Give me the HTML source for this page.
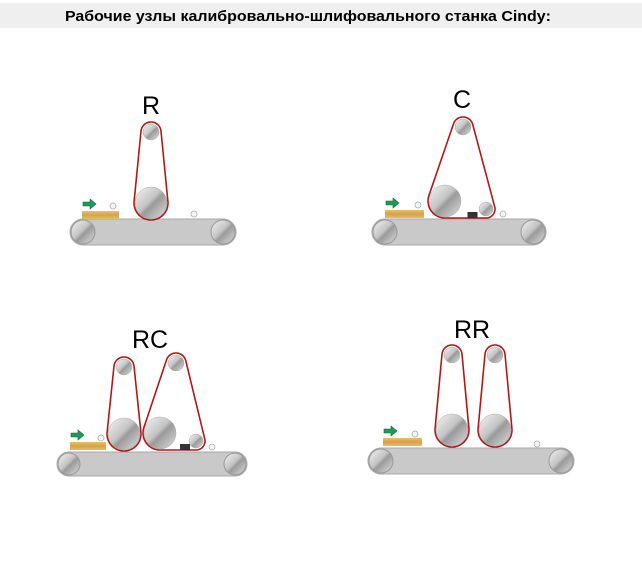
<!DOCTYPE html>
<html><head><meta charset="utf-8"><style>
body{margin:0;background:#fff;width:642px;height:566px;overflow:hidden}
svg{display:block}
</style></head><body>
<svg id="s" width="642" height="566" xmlns="http://www.w3.org/2000/svg">
<defs>
<linearGradient id="rg" x1="0" y1="0" x2="1" y2="1">
<stop offset="0" stop-color="#f4f4f4"/><stop offset="0.45" stop-color="#c4c4c4"/><stop offset="0.55" stop-color="#9a9a9a"/><stop offset="1" stop-color="#e0e0e0"/>
</linearGradient>
<linearGradient id="wd" x1="0" y1="0" x2="0" y2="1">
<stop offset="0" stop-color="#e8c070"/><stop offset="0.5" stop-color="#d8a048"/><stop offset="1" stop-color="#e6bd6a"/>
</linearGradient>
</defs>
<rect x="0" y="3" width="642" height="25" fill="#efefef"/>
<text x="65" y="21" font-family="Liberation Sans, sans-serif" font-weight="bold" font-size="14.5" textLength="486" lengthAdjust="spacingAndGlyphs" fill="#000">Рабочие узлы калибровально-шлифовального станка Cindy:</text>
<g font-family="Liberation Sans, sans-serif" font-size="25" fill="#000" text-anchor="middle">
<text x="151" y="114">R</text>
<text x="462" y="108">C</text>
<text x="150" y="348">RC</text>
<text x="472" y="338">RR</text>
</g>
<g id="g"></g>
</svg>
<script>
var g=document.getElementById('g'),NS='http://www.w3.org/2000/svg';
function el(t,a){var e=document.createElementNS(NS,t);for(var k in a)e.setAttribute(k,a[k]);g.appendChild(e);return e;}
function conv(x1,x2,y1,y2){var h=y2-y1,r=h/2,cy=y1+r;
el('rect',{x:x1,y:y1,width:x2-x1,height:h,rx:r,fill:'#c9c9c9',stroke:'#a8a8a8','stroke-width':1});
el('rect',{x:x1+r+2,y:y1+3,width:5,height:h-6,fill:'#fff'});
el('rect',{x:x2-r-7,y:y1+3,width:5,height:h-6,fill:'#fff'});
el('circle',{cx:x1+r,cy:cy,r:r-1,fill:'url(#rg)',stroke:'#999'});
el('circle',{cx:x2-r,cy:cy,r:r-1,fill:'url(#rg)',stroke:'#999'});}
function hull(cs){var p=[];cs.forEach(function(c){for(var i=0;i<72;i++){var a=i*Math.PI/36;p.push([c[0]+c[2]*Math.cos(a),c[1]+c[2]*Math.sin(a)]);}});
p.sort(function(a,b){return a[0]-b[0]||a[1]-b[1];});
function cr(o,a,b){return (a[0]-o[0])*(b[1]-o[1])-(a[1]-o[1])*(b[0]-o[0]);}
var lo=[],up=[];p.forEach(function(q){while(lo.length>1&&cr(lo[lo.length-2],lo[lo.length-1],q)<=0)lo.pop();lo.push(q);});
for(var i=p.length-1;i>=0;i--){var q=p[i];while(up.length>1&&cr(up[up.length-2],up[up.length-1],q)<=0)up.pop();up.push(q);}
var h=lo.slice(0,-1).concat(up.slice(0,-1));
el('polygon',{points:h.map(function(q){return q[0].toFixed(1)+','+q[1].toFixed(1)}).join(' '),fill:'none',stroke:'#b01818','stroke-width':1.6});}
function roll(x,y,r){el('circle',{cx:x,cy:y,r:r,fill:'url(#rg)',stroke:'#aaa','stroke-width':0.5});}
function beltR(x,yt,yb){hull([[x,yt,10],[x,yb,17]]);roll(x,yt,8);roll(x,yb,16);}
function beltC(tx,ty,bx,by,sx,sy){hull([[tx,ty,10],[bx,by,17],[sx,sy,9]]);roll(tx,ty,8);roll(bx,by,16);roll(sx,sy,7);
el('rect',{x:(bx+sx)/2+2,y:by+11,width:10,height:6,fill:'#333'});}
function wood(x1,x2,y){el('rect',{x:x1,y:y,width:x2-x1,height:8,fill:'url(#wd)'});
el('path',{d:'M'+(x1+1)+' '+(y-9)+'h7v-3l6 5l-6 5v-3h-7z',fill:'#1e9a5a',stroke:'#0d6a3a','stroke-width':0.6});}
function dot(x,y){el('circle',{cx:x,cy:y,r:3,fill:'#f4f4f4',stroke:'#aaa','stroke-width':0.8});}
// R
conv(70,236,219,245);wood(82,119,211);dot(113,206);dot(194,214);beltR(151,132,203);
// C
conv(372,546,219,245);wood(385,424,210);dot(418,205);dot(503,214);beltC(463,127,445,201,486,209);
// RC
conv(57,247,452,476);wood(70,106,442);dot(101,438);dot(212,447);beltR(124,367,434);beltC(176,363,160,433,196,441);
// RR
conv(368,574,448,474);wood(383,422,438);dot(415,434);dot(537,444);beltR(452,355,430);beltR(495,355,430);
</script>
</body></html>
